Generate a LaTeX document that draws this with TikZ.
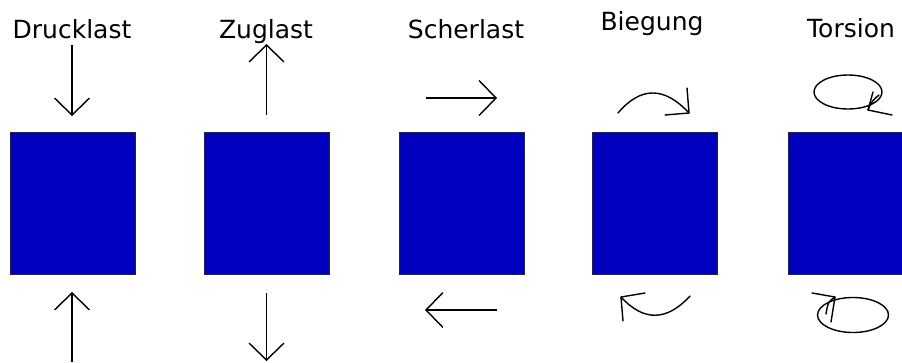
\documentclass[tikz,border=0pt]{standalone}
\usepackage{fontspec}
\setmainfont{DejaVu Sans}
\usetikzlibrary{arrows.meta}
\definecolor{boxblue}{RGB}{0,0,190}
\tikzset{
  loadbox/.style={draw=black!85, line width=1pt, fill=boxblue, minimum width=125pt, minimum height=142pt, inner sep=0pt, outer sep=0pt},
  lbl/.style={anchor=base, inner sep=0pt, font=\fontsize{25}{29}\selectfont},
  force/.style={line width=1.4pt, -{Straight Barb[length=17pt,width=35pt,line width=1.4pt]}},
  twist/.style={line width=1.4pt, line cap=round, line join=round}
}
\begin{document}
\begin{tikzpicture}[x=1pt,y=-1pt]
\useasboundingbox (0,0) rectangle (902,362);
% boxes
\node[loadbox] (b1) at (72.5,203) {};
\node[loadbox] (b2) at (266.5,203) {};
\node[loadbox] (b3) at (461.5,203) {};
\node[loadbox] (b4) at (655,203) {};
\begin{scope}
\clip (0,0) rectangle (902,362);
\node[loadbox] (b5) at (850.5,203) {};
\end{scope}
% labels
\node[lbl] (t1) at (72,38) {Drucklast};
\node[lbl] (t2) at (266,38) {Zuglast};
\node[lbl] (t3) at (466,38) {Scherlast};
\node[lbl] (t4) at (652,30) {Biegung};
\node[lbl] (t5) at (851,37) {Torsion};
% Drucklast
\coordinate (d1s) at (72,45); \coordinate (d1e) at (72,116);
\coordinate (d2s) at (72,362); \coordinate (d2e) at (72,292);
\draw[force] (d1s) -- (d1e);
\draw[force] (d2s) -- (d2e);
% Zuglast
\coordinate (z1s) at (266.5,115); \coordinate (z1e) at (266.5,44);
\coordinate (z2s) at (266.5,293); \coordinate (z2e) at (266.5,361);
\draw[force] (z1s) -- (z1e);
\draw[force] (z2s) -- (z2e);
% Scherlast
\coordinate (s1s) at (426,98); \coordinate (s1e) at (497,98);
\coordinate (s2s) at (497,310); \coordinate (s2e) at (425,310);
\draw[force] (s1s) -- (s1e);
\draw[force] (s2s) -- (s2e);
% Biegung
\coordinate (g1s) at (618,113); \coordinate (g1e) at (689,113);
\coordinate (g2s) at (690,296); \coordinate (g2e) at (621,297);
\draw[twist] (g1s) .. controls (640.7,86.3) and (664.3,86.3) .. (g1e);
\draw[twist] (687,88) -- (g1e) -- (665,115);
\draw[twist] (g2s) .. controls (666.7,321.3) and (643.7,321.7) .. (g2e);
\draw[twist] (645,293) -- (g2e) -- (623,321);
% Torsion top
\draw[twist] (848,92) ellipse[x radius=34, y radius=17];
\coordinate (r1) at (868,110);
\draw[twist] (892,115) -- (r1) -- (873,92);
\draw[twist] (r1) .. controls (872,101) .. (879,95);
% Torsion bottom
\draw[twist] (853,315) ellipse[x radius=35.5, y radius=17.5];
\coordinate (r2) at (835,297);
\draw[twist] (812,293) -- (r2) -- (831,322);
\draw[twist] (r2) .. controls (828,302) .. (826,314);
\end{tikzpicture}
\end{document}
